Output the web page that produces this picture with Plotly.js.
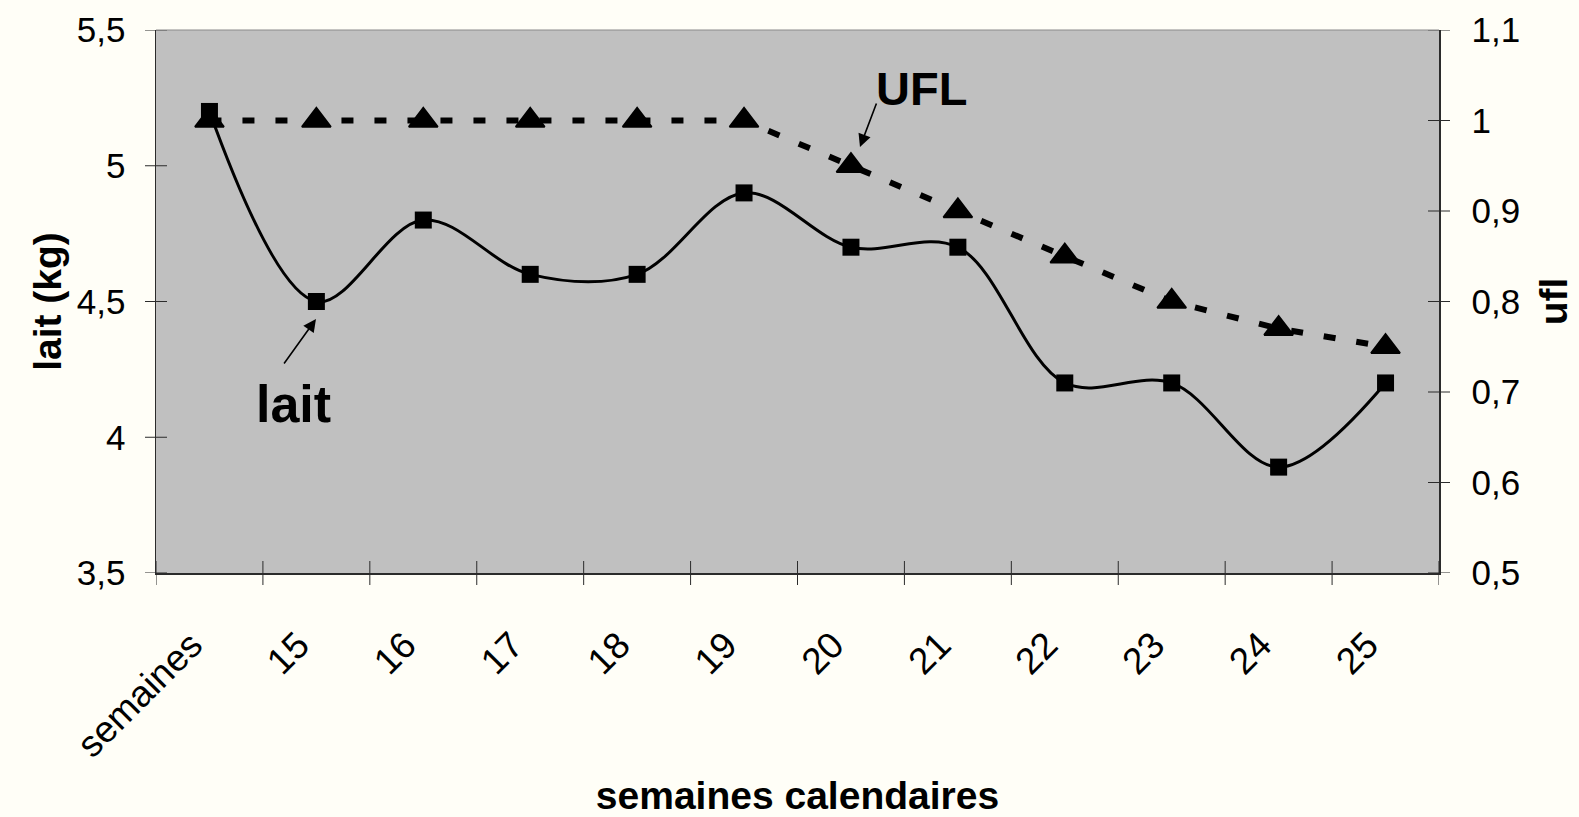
<!DOCTYPE html>
<html>
<head>
<meta charset="utf-8">
<script src="https://cdn.plot.ly/plotly-3.0.1.min.js"></script>
<style>
  html, body { margin: 0; padding: 0; background: #FFFEF7; }
  #chart { width: 1579px; height: 817px; }
</style>
</head>
<body>
<div id="chart"></div>
<script>
// ---- data ----
const categories = ['semaines', '15', '16', '17', '18', '19', '20', '21', '22', '23', '24', '25'];
const lait = [5.2, 4.5, 4.8, 4.6, 4.6, 4.9, 4.7, 4.7, 4.2, 4.2, 3.89, 4.2];
const ufl  = [1.0, 1.0, 1.0, 1.0, 1.0, 1.0, 0.95, 0.9, 0.85, 0.8, 0.77, 0.75];

const laitTickVals = [3.5, 4, 4.5, 5, 5.5];
const laitTickText = ['3,5', '4', '4,5', '5', '5,5'];
const uflTickVals = [0.5, 0.6, 0.7, 0.8, 0.9, 1.0, 1.1];
const uflTickText = ['0,5', '0,6', '0,7', '0,8', '0,9', '1', '1,1'];

// category boundaries (where the tick marks sit)
const boundaryVals = categories.map((c, i) => i - 0.5).concat([categories.length - 0.5]);

const FONT = 'Liberation Sans, Arial, sans-serif';
const AX = '#2b2b2b';
const xRange = [-0.5, categories.length - 0.5];

const traces = [
  {
    type: 'scatter', mode: 'lines+markers', name: 'lait',
    x: categories, y: lait, xaxis: 'x', yaxis: 'y',
    line: { color: '#000000', width: 3, shape: 'spline', smoothing: 1 },
    marker: { symbol: 'square', size: 17, color: '#000000' },
    hoverinfo: 'x+y'
  },
  {
    type: 'scatter', mode: 'lines+markers', name: 'UFL',
    x: categories, y: ufl, xaxis: 'x', yaxis: 'y2',
    line: { color: '#000000', width: 6, dash: '12px,21px' },
    marker: { symbol: 'triangle-up', size: 25, color: '#000000', line: { color: '#000000', width: 2 } },
    hoverinfo: 'x+y'
  }
];

// crossing tick marks (Excel style: half inside, half outside) and top frame edge
const tickLine = { color: AX, width: 1 };
const shapes = []
  .concat(boundaryVals.map(v => ({
    type: 'line', xref: 'x', yref: 'paper', ysizemode: 'pixel', yanchor: 0,
    x0: v, x1: v, y0: -12, y1: 12, line: tickLine
  })))
  .concat(laitTickVals.map(v => ({
    type: 'line', xref: 'paper', yref: 'y', xsizemode: 'pixel', xanchor: 0,
    x0: -11, x1: 11, y0: v, y1: v, line: tickLine
  })))
  .concat(uflTickVals.map(v => ({
    type: 'line', xref: 'paper', yref: 'y2', xsizemode: 'pixel', xanchor: 1,
    x0: -11, x1: 11, y0: v, y1: v, line: tickLine
  })))
  .concat([{
    type: 'line', xref: 'paper', yref: 'paper', x0: 0, x1: 1, y0: 1, y1: 1,
    line: { color: '#8a8a8a', width: 1 }
  }]);

const layout = {
  width: 1579, height: 817,
  paper_bgcolor: '#FFFEF7', plot_bgcolor: '#C0C0C0',
  margin: { l: 156, r: 140, t: 30, b: 244 },
  showlegend: false,
  font: { family: FONT, color: '#000000', size: 32 },
  xaxis: {
    type: 'category', categoryorder: 'array', categoryarray: categories,
    range: xRange, ticks: '', tickangle: -45,
    ticklabelstandoff: 34, ticklabelshift: -18,
    tickfont: { family: FONT, size: 37, color: '#000000' },
    showgrid: false, zeroline: false, showline: true, linecolor: AX, linewidth: 1.5,
    title: { text: 'semaines calendaires', font: { family: FONT, size: 39, weight: 'bold' }, standoff: 50 },
    fixedrange: true
  },
  yaxis: {
    range: [3.5, 5.5], tickmode: 'array', tickvals: laitTickVals, ticktext: laitTickText,
    ticks: '', ticklabelstandoff: 22,
    tickfont: { family: FONT, size: 35, color: '#000000' },
    showgrid: false, zeroline: false, showline: true, linecolor: AX, linewidth: 1.5,
    title: { text: 'lait (kg)', font: { family: FONT, size: 39, weight: 'bold' }, standoff: 3 },
    fixedrange: true
  },
  yaxis2: {
    overlaying: 'y', anchor: 'x', side: 'right',
    range: [0.5, 1.1], tickmode: 'array', tickvals: uflTickVals, ticktext: uflTickText,
    ticks: '', ticklabelstandoff: 24,
    tickfont: { family: FONT, size: 35, color: '#000000' },
    showgrid: false, zeroline: false, showline: true, linecolor: AX, linewidth: 1.5,
    title: { text: 'ufl', font: { family: FONT, size: 39, weight: 'bold' }, standoff: 20 },
    fixedrange: true
  },
  shapes: shapes,
  annotations: [
    { xref: 'paper', yref: 'paper', x: 0.597, y: 0.892, text: 'UFL', showarrow: false,
      font: { family: FONT, size: 47, weight: 'bold', color: '#000000' }, xanchor: 'center', yanchor: 'middle' },
    { xref: 'paper', yref: 'paper', x: 0.5487, y: 0.7845, text: '', showarrow: true,
      ax: 17, ay: -45, arrowhead: 2, arrowsize: 1.6, arrowwidth: 1.6, arrowcolor: '#000000' },
    { xref: 'paper', yref: 'paper', x: 0.107, y: 0.312, text: 'lait', showarrow: false,
      font: { family: FONT, size: 52, weight: 'bold', color: '#000000' }, xanchor: 'center', yanchor: 'middle' },
    { xref: 'paper', yref: 'paper', x: 0.1247, y: 0.4678, text: '', showarrow: true,
      ax: -33, ay: 46, arrowhead: 2, arrowsize: 1.6, arrowwidth: 1.6, arrowcolor: '#000000' }
  ]
};

Plotly.newPlot('chart', traces, layout, { displayModeBar: false, staticPlot: true });
</script>
</body>
</html>
